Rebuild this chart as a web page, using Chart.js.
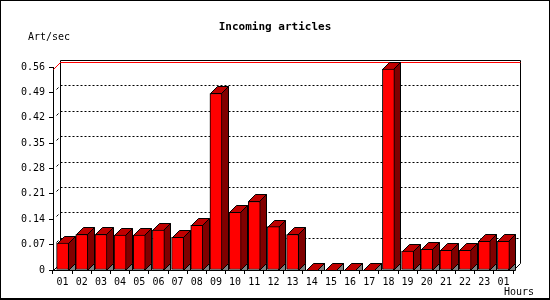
<!DOCTYPE html>
<html>
<head>
<meta charset="utf-8">
<script src="https://cdn.jsdelivr.net/npm/chart.js@4"></script>
<style>
  body { margin: 0; background: #fff; }
  canvas { display: block; }
</style>
</head>
<body>
<canvas id="myChart" width="550" height="300"></canvas>
<script>
const hours = ['01', '02', '03', '04', '05', '06', '07', '08', '09', '10', '11', '12',
               '13', '14', '15', '16', '17', '18', '19', '20', '21', '22', '23', '01'];
const articles = [0.074, 0.098, 0.098, 0.096, 0.096, 0.110, 0.090, 0.123, 0.487, 0.159, 0.189, 0.120,
                  0.098, 0, 0, 0, 0, 0.554, 0.052, 0.057, 0.054, 0.054, 0.079, 0.079];
const yTicks = [0, 0.07, 0.14, 0.21, 0.28, 0.35, 0.42, 0.49, 0.56];

const DEPTH = 7;
const FONT = '"DejaVu Sans Mono", "Liberation Mono", monospace';

function poly(ctx, pts, fill) {
    ctx.beginPath();
    ctx.moveTo(pts[0][0], pts[0][1]);
    for (let i = 1; i < pts.length; i++) ctx.lineTo(pts[i][0], pts[i][1]);
    ctx.closePath();
    ctx.fillStyle = fill;
    ctx.fill();
    ctx.stroke();
}

// back wall, grid and the top/side faces of the bars
const threeD = {
    id: 'threeD',
    beforeDatasetsDraw(chart) {
        const { ctx, chartArea: a, scales: { y } } = chart;
        const d = DEPTH;
        const L = a.left + 0.5, R = a.right + 0.5, B = a.bottom + 0.5;
        ctx.save();
        ctx.lineWidth = 1;
        ctx.strokeStyle = '#000';

        // dotted grid lines on the back wall
        ctx.setLineDash([2, 2]);
        yTicks.slice(1, -1).forEach(v => {
            const py = Math.round(y.getPixelForValue(v)) + 0.5;
            ctx.beginPath();
            ctx.moveTo(L + d, py - d);
            ctx.lineTo(R + d, py - d);
            ctx.stroke();
        });
        ctx.setLineDash([]);
        // little dashes on the left wall
        yTicks.slice(1, -1).forEach(v => {
            const py = Math.round(y.getPixelForValue(v)) + 0.5;
            ctx.beginPath();
            ctx.moveTo(L + 3, py - 3);
            ctx.lineTo(L + 5, py - 5);
            ctx.stroke();
        });

        // wall frame
        const T = Math.round(y.getPixelForValue(yTicks[yTicks.length - 1])) + 0.5;
        ctx.beginPath();
        ctx.moveTo(L + d, B - d);
        ctx.lineTo(L + d, T - d);
        ctx.lineTo(R + d, T - d);
        ctx.lineTo(R + d, B - d);
        ctx.moveTo(L, B);
        ctx.lineTo(L + d, B - d);
        ctx.moveTo(R, B);
        ctx.lineTo(R + d, B - d);
        ctx.stroke();

        // max value line
        const pm = Math.round(y.getPixelForValue(Math.max(...articles))) + 0.5;
        ctx.strokeStyle = '#ff0000';
        ctx.beginPath();
        ctx.moveTo(L, pm);
        ctx.lineTo(L + d, pm - d);
        ctx.lineTo(R + d, pm - d);
        ctx.stroke();

        // bar faces
        ctx.strokeStyle = '#000';
        chart.getDatasetMeta(0).data.forEach(bar => {
            const p = bar.getProps(['x', 'y', 'base', 'width'], true);
            const xl = Math.round(p.x - p.width / 2) + 0.5;
            const xr = Math.round(p.x + p.width / 2) - 0.5;
            const top = Math.round(p.y) + 0.5;
            const base = Math.round(p.base) + 0.5;
            poly(ctx, [[xr, base], [xr + d, base - d], [xr + d, base]], '#808080');
            poly(ctx, [[xr, top], [xr + d, top - d], [xr + d, base - d], [xr, base]], '#800000');
            poly(ctx, [[xl, top], [xl + d, top - d], [xr + d, top - d], [xr, top]], '#c00000');
        });
        ctx.restore();
    }
};

// titles and frame
const decor = {
    id: 'decor',
    afterDraw(chart) {
        const ctx = chart.ctx;
        ctx.save();
        ctx.fillStyle = '#000';
        ctx.textBaseline = 'middle';
        ctx.font = 'bold 11px ' + FONT;
        ctx.textAlign = 'center';
        ctx.fillText('Incoming articles', 275, 27);
        ctx.font = '10px ' + FONT;
        ctx.textAlign = 'left';
        ctx.fillText('Art/sec', 28, 37);
        ctx.fillText('Hours', 504, 292);
        ctx.strokeStyle = '#000';
        ctx.lineWidth = 1;
        ctx.strokeRect(0.5, 0.5, 549, 298);
        ctx.beginPath();
        ctx.moveTo(0, 299.5);
        ctx.lineTo(550, 299.5);
        ctx.stroke();
        ctx.restore();
    }
};

const data = {
    labels: hours,
    datasets: [{
        label: 'Art/sec',
        data: articles,
        backgroundColor: '#ff0000',
        borderColor: '#000',
        borderWidth: 1,
        borderSkipped: false,
        barThickness: 12,
    }]
};

const config = {
    type: 'bar',
    data: data,
    options: {
        responsive: false,
        animation: false,
        devicePixelRatio: 1,
        layout: {
            padding: { top: 67, right: 37, left: 0, bottom: 0 },
        },
        scales: {
            x: {
                afterFit: s => { s.height = 30; },
                grid: {
                    drawOnChartArea: false,
                    color: '#000',
                    tickLength: 4,
                },
                border: { color: '#000' },
                ticks: {
                    color: '#000',
                    padding: 2,
                    maxRotation: 0,
                    autoSkip: false,
                    font: { family: FONT, size: 10 },
                },
            },
            y: {
                min: 0,
                max: 0.56,
                afterFit: s => { s.width = 53; },
                afterBuildTicks: s => { s.ticks = yTicks.map(v => ({ value: v })); },
                grid: {
                    drawOnChartArea: false,
                    color: '#000',
                    tickLength: 4,
                },
                border: { color: '#000' },
                ticks: {
                    color: '#000',
                    padding: 4,
                    font: { family: FONT, size: 10 },
                    callback: v => v === 0 ? '0' : v.toFixed(2),
                },
            },
        },
        plugins: {
            legend: { display: false },
            tooltip: { enabled: false },
        },
    },
    plugins: [threeD, decor],
};

const ctx = document.getElementById('myChart').getContext('2d');
new Chart(ctx, config);
</script>
</body>
</html>
